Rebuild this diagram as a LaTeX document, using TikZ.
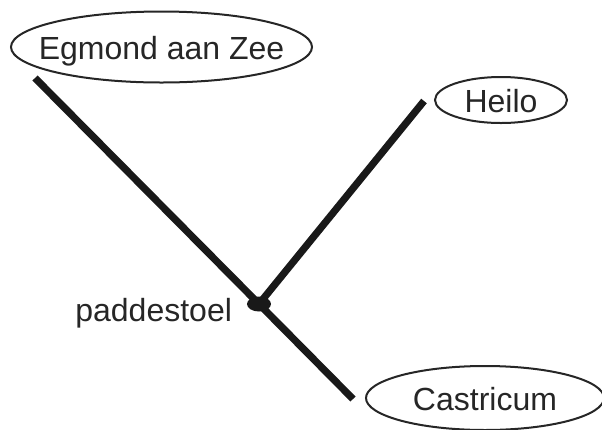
\documentclass[tikz,border=0pt]{standalone}
\usepackage{fontspec}
\setmainfont{Liberation Sans}
\usetikzlibrary{shapes.geometric}
\newcommand{\placename}[1]{\makebox[0pt]{\smash{\raisebox{-0.38em}{#1}}}}
\tikzset{
  placebox/.style={draw=black!85,ellipse,line width=1pt,inner sep=0pt,
    font=\fontsize{16}{19}\selectfont,text=black!85},
  roadline/.style={line width=3.6pt,draw=black!90},
  junction/.style={ellipse,fill=black!90,inner sep=0pt,
    minimum width=12pt,minimum height=7.5pt},
}
\begin{document}
\begin{tikzpicture}[x=0.5pt,y=-0.5pt]
\useasboundingbox (0,0) rectangle (602,430);
\node[placebox,minimum width=150.5pt,minimum height=35.5pt] (egmond) at (161.5,47) {\placename{Egmond aan Zee}};
\node[placebox,minimum width=66pt,minimum height=23pt] (heilo) at (501,100) {\placename{Heilo}};
\node[placebox,minimum width=119pt,minimum height=32pt] (castricum) at (485,398) {\placename{Castricum}};
\node[junction] (paddo) at (259,304) {};
\node[font=\fontsize{16}{19}\selectfont,text=black!85,anchor=east] (paddolabel) at (239,313) {paddestoel};
% free ends of the roads
\coordinate (egmondEnd) at (35,78);
\coordinate (heiloEnd) at (424,101);
\coordinate (castricumEnd) at (353,399);
\draw[roadline] (paddo.center) -- (egmondEnd);
\draw[roadline] (paddo.center) -- (heiloEnd);
\draw[roadline] (paddo.center) -- (castricumEnd);
\end{tikzpicture}
\end{document}
